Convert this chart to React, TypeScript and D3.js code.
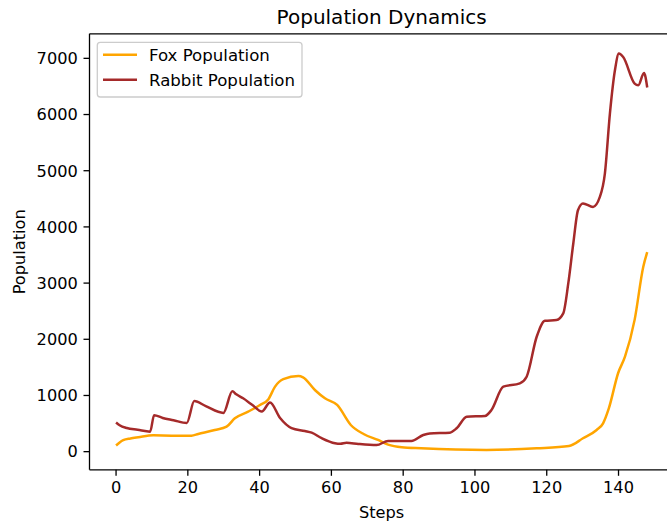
import React from "react";
import * as d3 from "d3";

// Simulation output: population per step (sampled at the bends of each curve)
const rabbitSteps = [
  0, 1, 3, 6, 9.5, 10.6, 13, 16, 19.7, 21.8, 25, 29.9, 32.4, 33.5, 35.4, 38, 40.6,
  42.9, 45.7, 48.9, 52.6, 54.5, 57.3, 61, 62.5, 64.2, 67.5, 72.6, 75.8, 82.3, 85.6,
  87.4, 93, 94.9, 97.7, 102.8, 104.6, 107.9, 112.5, 114.4, 117.2, 119.5, 122.7, 124.6,
  126, 127.4, 128.7, 130.1, 132.9, 134.8, 136.2, 137.6, 139, 140.1, 141.3, 144.5,
  145.5, 147.1, 148,
];
const rabbitValues = [
  520, 470, 420, 390, 356, 650, 600, 560, 510, 900, 810, 690, 1075, 1020, 950, 830, 715,
  875, 600, 420, 368, 338, 240, 150, 140, 158, 137, 118, 190, 190, 297,
  325, 338, 416, 622, 635, 741, 1156, 1216, 1334, 2045, 2330, 2342, 2461,
  2994, 3705, 4297, 4417, 4356, 4534, 4950, 6017, 6787, 7084, 7024, 6550,
  6520, 6739, 6480,
];

const foxSteps = [
  0, 1, 2, 4, 6.2, 10.4, 15.5, 21, 22.9, 27.5, 30.8, 33.1, 36.8, 40.1, 42.4, 44.3,
  46.6, 50.8, 52.1, 55.4, 58.2, 61.6, 65.4, 69.1, 73, 75.8, 79.6, 85, 103.2, 117.2,
  126.2, 130.1, 133.9, 135.7, 137.3, 139.9, 141.8, 144.5, 146.9, 148,
];
const foxValues = [
  110, 165, 205, 235, 256, 290, 285, 285, 315, 386, 445, 594, 712, 831, 930, 1157,
  1290, 1347, 1324, 1098, 950, 831, 475, 310, 208, 125, 78, 60, 30, 60,
  100, 238, 386, 505, 770, 1400, 1690, 2350, 3292, 3550,
];

const xTicks = [0, 20, 40, 60, 80, 100, 120, 140];
const yTicks = [0, 1000, 2000, 3000, 4000, 5000, 6000, 7000];

const seriesList = [
  { name: "Fox Population", steps: foxSteps, values: foxValues, color: "#FFA500" },
  { name: "Rabbit Population", steps: rabbitSteps, values: rabbitValues, color: "#A52A2A" },
];

const W = 667;
const H = 527;
const FONT = "'DejaVu Sans', sans-serif";

export default function App() {
  const left = 89.5;
  const top = 33.8;
  const bottom = 469.8;
  const pxPerStep = 3.589;

  const allSteps = [...foxSteps, ...rabbitSteps];
  const allValues = [...foxValues, ...rabbitValues];
  const [sMin, sMax] = d3.extent(allSteps) as [number, number];
  const [vMin, vMax] = d3.extent(allValues) as [number, number];
  const sPad = (sMax - sMin) * 0.05;
  const vPad = (vMax - vMin) * 0.05;

  const x = d3
    .scaleLinear()
    .domain([sMin - sPad, sMax + sPad])
    .range([left, left + (sMax - sMin + 2 * sPad) * pxPerStep]);
  const y = d3
    .scaleLinear()
    .domain([vMin - vPad, vMax + vPad])
    .range([bottom, top]);

  const right = x.range()[1];

  const line = (steps: number[], values: number[]) =>
    d3
      .line<number>()
      .x((_, i) => x(steps[i]))
      .y((v) => y(v))
      .curve(d3.curveMonotoneX)(values) as string;

  const tickLen = 6;
  const tickPad = 5.7;
  const fs = 16.2;
  const legendFs = 16.6;

  return (
    <svg
      width={W}
      height={H}
      style={{ position: "absolute", left: 0, top: 0, background: "#fff" }}
      fontFamily={FONT}
    >
      <defs>
        <clipPath id="plot-area">
          <rect x={left} y={top} width={right - left} height={bottom - top} />
        </clipPath>
      </defs>

      {/* title */}
      <text x={(left + right) / 2} y={24} textAnchor="middle" fontSize={20} fill="#000">
        Population Dynamics
      </text>

      {/* data lines */}
      <g clipPath="url(#plot-area)">
        {seriesList.map((s) => (
          <path
            key={s.name}
            d={line(s.steps, s.values)}
            fill="none"
            stroke={s.color}
            strokeWidth={2.5}
            strokeLinejoin="round"
          />
        ))}
      </g>

      {/* spines */}
      <g stroke="#000" strokeWidth={1.3} fill="none">
        <line x1={left} y1={top} x2={right} y2={top} />
        <line x1={left} y1={bottom} x2={right} y2={bottom} />
        <line x1={left} y1={top} x2={left} y2={bottom} />
        <line x1={right} y1={top} x2={right} y2={bottom} />
      </g>

      {/* x axis */}
      <g>
        {xTicks.map((t) => (
          <g key={t}>
            <line x1={x(t)} x2={x(t)} y1={bottom} y2={bottom + tickLen} stroke="#000" strokeWidth={1.3} />
            <text x={x(t)} y={bottom + tickLen + tickPad + 11.8} textAnchor="middle" fontSize={fs} fill="#000">
              {t}
            </text>
          </g>
        ))}
        <text x={(left + right) / 2} y={518} textAnchor="middle" fontSize={fs} fill="#000">
          Steps
        </text>
      </g>

      {/* y axis */}
      <g>
        {yTicks.map((t) => (
          <g key={t}>
            <line x1={left - tickLen} x2={left} y1={y(t)} y2={y(t)} stroke="#000" strokeWidth={1.3} />
            <text
              x={left - tickLen - tickPad}
              y={y(t)}
              dy="0.36em"
              textAnchor="end"
              fontSize={fs}
              fill="#000"
            >
              {t}
            </text>
          </g>
        ))}
        <text
          transform={`translate(25, ${(top + bottom) / 2}) rotate(-90)`}
          textAnchor="middle"
          fontSize={fs}
          fill="#000"
        >
          Population
        </text>
      </g>

      {/* legend */}
      <g>
        <rect
          x={97.3}
          y={42.3}
          width={204.7}
          height={54.7}
          rx={3}
          fill="#fff"
          fillOpacity={0.8}
          stroke="#cccccc"
          strokeWidth={1.3}
        />
        {seriesList.map((s, i) => (
          <g key={s.name} transform={`translate(0, ${54.7 + i * 25})`}>
            <line x1={103} x2={137} y1={0} y2={0} stroke={s.color} strokeWidth={2.5} />
            <text x={149} y={0} dy="0.36em" fontSize={legendFs} fill="#000">
              {s.name}
            </text>
          </g>
        ))}
      </g>
    </svg>
  );
}
